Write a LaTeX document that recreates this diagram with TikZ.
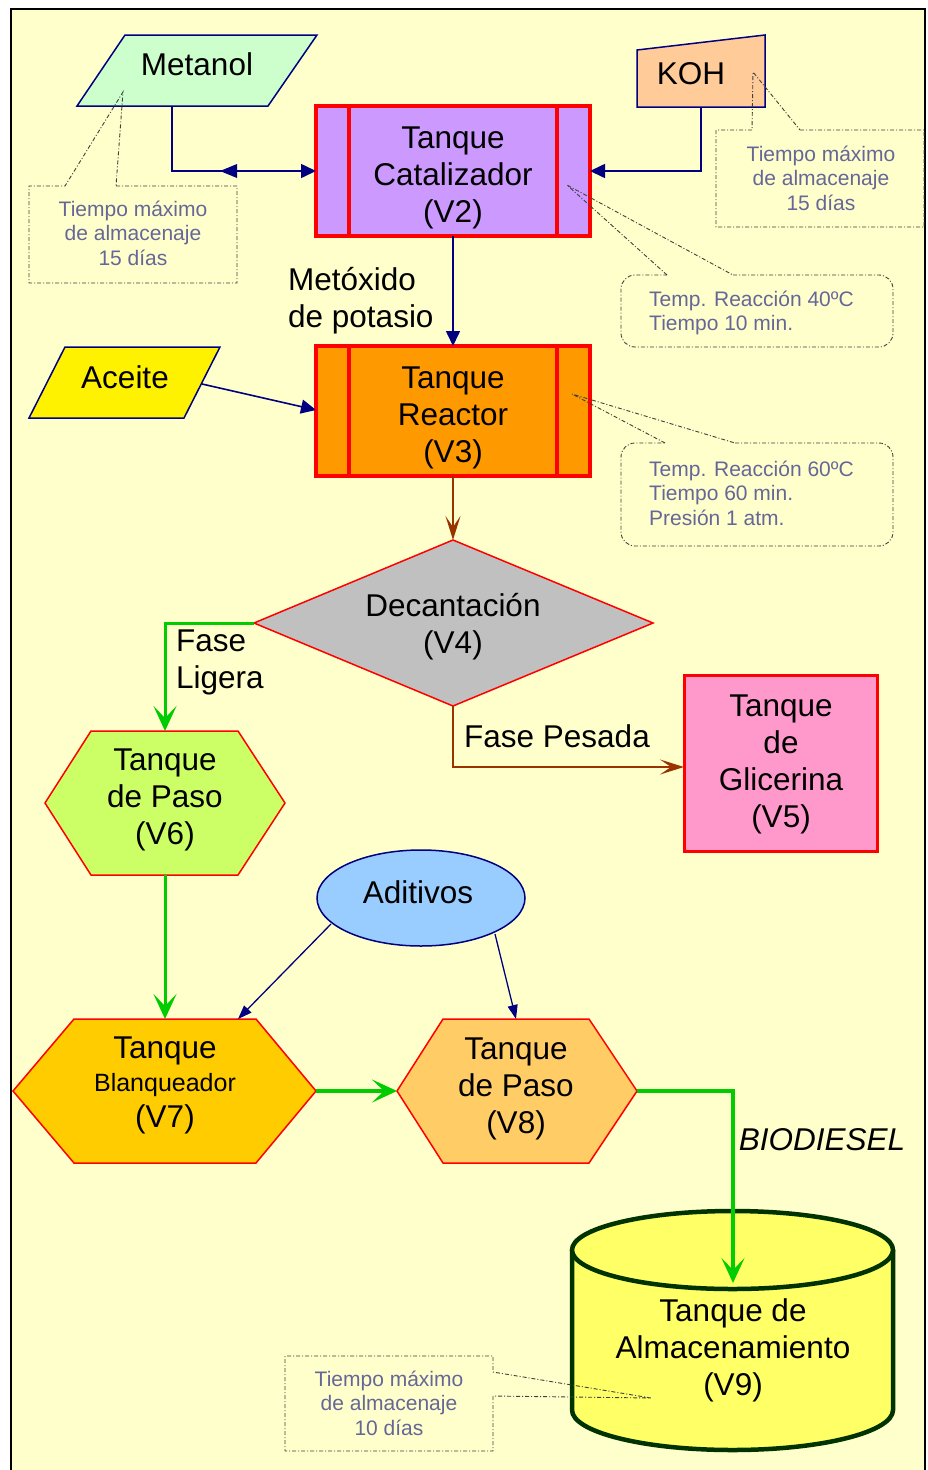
\documentclass[tikz,border=0pt]{standalone}
\usepackage{fontspec}
\setmainfont{Liberation Sans}
\usetikzlibrary{arrows.meta}
\definecolor{bg}{HTML}{FFFFCC}
\definecolor{navy}{HTML}{000080}
\definecolor{notec}{HTML}{666699}
\definecolor{noteline}{HTML}{404040}
\definecolor{brownc}{HTML}{993300}
\definecolor{greenc}{HTML}{00CC00}
\definecolor{metanolc}{HTML}{CCFFCC}
\definecolor{kohc}{HTML}{FFCC99}
\definecolor{catc}{HTML}{CC99FF}
\definecolor{reacc}{HTML}{FF9900}
\definecolor{decc}{HTML}{C0C0C0}
\definecolor{glic}{HTML}{FF99CC}
\definecolor{vsixc}{HTML}{CCFF66}
\definecolor{aditc}{HTML}{99CCFF}
\definecolor{vsevc}{HTML}{FFCC00}
\definecolor{veightc}{HTML}{FFCC66}
\definecolor{vninec}{HTML}{FFFF66}
\definecolor{cylline}{HTML}{003300}
\begin{document}
\begin{tikzpicture}[x=1pt,y=-1pt,
  txt/.style={font=\fontsize{31.5}{37}\selectfont, align=center, inner sep=0pt},
  notetxt/.style={font=\fontsize{21}{24.5}\selectfont, text=notec, align=center, inner sep=0pt},
  note/.style={draw=noteline, line width=0.9pt, dash pattern=on 4pt off 2pt on 1pt off 2pt},
  navyline/.style={draw=navy, line width=1.6pt},
  navyarrow/.style={navyline, -{Triangle[length=15pt,width=14pt]}},
  thinnavy/.style={draw=navy, line width=1.3pt, -{Triangle[length=14pt,width=10pt]}},
  brownarrow/.style={draw=brownc, line width=2pt, -{Stealth[length=24pt,width=15pt,inset=11pt]}},
  greenarrow/.style={draw=greenc, line width=3pt, -{Stealth[length=25pt,width=23pt,inset=12pt]}},
  inshape/.style={draw=navy, line width=1.5pt},
  tankbox/.style={draw=red, line width=4pt},
  hexa/.style={draw=red, line width=1.5pt},
]
\useasboundingbox (0,0) rectangle (928,1470);
\fill[white] (0,0) rectangle (928,1470);
\draw[line width=2.5pt, fill=bg] (11,9) rectangle (925,1500);

% ---------- shapes ----------
% Metanol
\draw[inshape, fill=metanolc] (125,35) -- (317,35) -- (268,106) -- (77,106) -- cycle;
\node[txt] (metanol) at (197,64) {Metanol};
\coordinate (metanolB) at (172,106);
% KOH
\draw[inshape, fill=kohc] (637,50) -- (765,35) -- (765,107) -- (637,107) -- cycle;
\node[txt] (koh) at (691,74) {KOH};
\coordinate (kohB) at (701,107);
% V2
\fill[catc] (316,106) rectangle (590,236);
\node[txt] (vtwo) at (453,178) {Tanque\\Catalizador\\(V2)};
\draw[tankbox] (316,106) rectangle (590,236);
\draw[tankbox] (349,106) -- (349,236) (557,106) -- (557,236);
\coordinate (vtwoL) at (316,171);
\coordinate (vtwoR) at (590,171);
\coordinate (vtwoB) at (453,236);
% V3
\fill[reacc] (316,346) rectangle (590,476);
\node[txt] (vthree) at (453,418) {Tanque\\Reactor\\(V3)};
\draw[tankbox] (316,346) rectangle (590,476);
\draw[tankbox] (349,346) -- (349,476) (557,346) -- (557,476);
\coordinate (vthreeT) at (453,346);
\coordinate (vthreeL) at (316,410);
\coordinate (vthreeB) at (453,476);
% Aceite
\draw[inshape, fill=yellow] (65,347) -- (220,347) -- (184,418) -- (29,418) -- cycle;
\node[txt] (aceite) at (125,377) {Aceite};
\coordinate (aceiteR) at (202,384);
% Decantacion
\draw[hexa, fill=decc] (453,540) -- (653,623) -- (453,706) -- (254,623) -- cycle;
\node[txt] (dec) at (453,627) {Decantación\\(V4)};
\coordinate (decT) at (453,540);
\coordinate (decL) at (254,623);
\coordinate (decB) at (453,706);
% Glicerina
\draw[draw=red, line width=3pt, fill=glic] (684,675) rectangle (877,851);
\node[txt] (vfive) at (781,764) {Tanque\\de\\Glicerina\\(V5)};
\coordinate (vfiveL) at (684,767);
% V6
\draw[hexa, fill=vsixc] (91,731) -- (238,731) -- (285,803) -- (238,875) -- (91,875) -- (45,803) -- cycle;
\node[txt] (vsix) at (165,800) {Tanque\\de Paso\\(V6)};
\coordinate (vsixT) at (165,731);
\coordinate (vsixB) at (165,875);
% Aditivos
\draw[inshape, fill=aditc] (421,898) ellipse (104 and 48);
\node[txt] (adit) at (418,892) {Aditivos};
\coordinate (aditL) at (331,924);
\coordinate (aditR) at (495,934);
% V7
\draw[hexa, fill=vsevc] (74,1019) -- (256,1019) -- (316,1091) -- (256,1163) -- (74,1163) -- (13,1091) -- cycle;
\node[txt] (vsevA) at (165,1051) {Tanque};
\node[txt, font=\fontsize{25}{30}\selectfont] (vsevB) at (165,1085) {Blanqueador};
\node[txt] (vsevC) at (165,1119) {(V7)};
\coordinate (vsevT) at (165,1019);
\coordinate (vsevTR) at (238,1019);
\coordinate (vsevR) at (316,1091);
% V8
\draw[hexa, fill=veightc] (443,1019) -- (589,1019) -- (637,1091) -- (589,1163) -- (443,1163) -- (397,1091) -- cycle;
\node[txt] (veight) at (516,1089) {Tanque\\de Paso\\(V8)};
\coordinate (veightT) at (516,1019);
\coordinate (veightL) at (397,1091);
\coordinate (veightR) at (637,1091);
% V9 cylinder
\draw[draw=cylline, line width=4.5pt, fill=vninec]
  (572,1250) -- (572,1410) .. controls (572,1432.1) and (643.9,1450) .. (732.5,1450)
  .. controls (821.1,1450) and (893,1432.1) .. (893,1410) -- (893,1250);
\draw[draw=cylline, line width=4.5pt, fill=vninec] (732.5,1250) ellipse (160.5 and 39);
\node[txt] (vnine) at (733,1350) {Tanque de\\Almacenamiento\\(V9)};
\coordinate (vnineT) at (733,1283);

% ---------- connectors ----------
\draw[navyarrow] (metanolB) |- (vtwoL);
\fill[navy] (220,171) -- (237,164) -- (237,178) -- cycle;
\draw[navyarrow] (kohB) |- (vtwoR);
\draw[navyarrow] (vtwoB) -- (vthreeT);
\node[txt, align=left, anchor=west] (metox) at (288,301) {Metóxido\\de potasio};
\draw[navyarrow] (aceiteR) -- (vthreeL);
\draw[brownarrow] (vthreeB) -- (decT);
\draw[greenarrow] (decL) -| (vsixT);
\node[txt, align=left, anchor=west] (ligera) at (176,662) {Fase\\Ligera};
\draw[brownarrow] (decB) |- (vfiveL);
\node[txt, anchor=west] (pesada) at (464,736) {Fase Pesada};
\draw[greenarrow] (vsixB) -- (vsevT);
\draw[thinnavy] (aditL) -- (vsevTR);
\draw[thinnavy] (aditR) -- (veightT);
\draw[greenarrow, line width=4.5pt] (vsevR) -- (veightL);
\draw[greenarrow, line width=3.5pt] (veightR) -| (vnineT);
\node[txt, font=\fontsize{31.5}{37}\selectfont\itshape] (bio) at (822,1140) {BIODIESEL};

% ---------- notes ----------
\coordinate (tipA) at (123,92);
\draw[note] (116,186) -- (237,186) -- (237,283) -- (29,283) -- (29,186) -- (65,186) -- (tipA) -- cycle;
\node[notetxt] (noteA) at (133,233) {Tiempo máximo\\de almacenaje\\15 días};

\coordinate (tipB) at (753,72);
\draw[note] (800,130) -- (924,130) -- (924,227) -- (716,227) -- (716,130) -- (752,130) -- (tipB) -- cycle;
\node[notetxt] (noteB) at (821,178) {Tiempo máximo\\de almacenaje\\15 días};

\coordinate (tipC) at (567,185);
\draw[note, rounded corners=14pt] (733,275) -- (893,275) -- (893,347) -- (621,347) -- (621,275) -- (667,275);
\draw[note] (667,275) -- (tipC) -- (733,275);
\node[notetxt, align=left, anchor=west] (noteC) at (649,313) {Temp. Reacción 40ºC\\Tiempo 10 min.};

\coordinate (tipD) at (572,394);
\draw[note, rounded corners=14pt] (735,443) -- (893,443) -- (893,546) -- (621,546) -- (621,443) -- (665,443);
\draw[note] (665,443) -- (tipD) -- (735,443);
\node[notetxt, align=left, anchor=west] (noteD) at (649,493) {Temp. Reacción 60ºC\\Tiempo 60 min.\\Presión 1 atm.};

\coordinate (tipE) at (651,1398);
\draw[note] (493,1396) -- (493,1451) -- (285,1451) -- (285,1356) -- (493,1356) -- (493,1372) -- (tipE) -- cycle;
\node[notetxt] (noteE) at (389,1403) {Tiempo máximo\\de almacenaje\\10 días};
\end{tikzpicture}
\end{document}
